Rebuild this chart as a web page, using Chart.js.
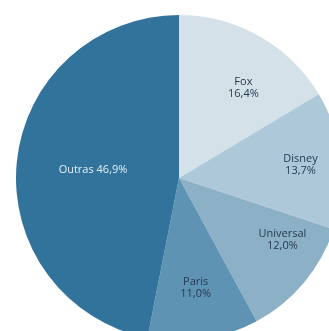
<!DOCTYPE html>
<html><head><meta charset="utf-8">
<script src="https://cdn.jsdelivr.net/npm/chart.js@4"></script>
<style>
html,body{margin:0;padding:0;background:#fff;overflow:hidden;width:329px;height:331px;}
#wrap{position:absolute;left:16px;top:15px;width:326px;height:326px;}
</style></head>
<body>
<div id="wrap"><canvas id="c" width="326" height="326"></canvas></div>
<script>
const categories = ["Fox", "Disney", "Universal", "Paris", "Outras"];
const shares = [16.4, 13.7, 12.0, 11.0, 46.9];
const sliceColors = ["#d4e1e9", "#adc8d8", "#8cb0c6", "#5f93b3", "#31739b"];
const labelColors = ["#253a52", "#253a52", "#253a52", "#253a52", "#e4eef4"];

function fmt(v){ return v.toFixed(1).replace('.', ',') + '%'; }

// label placement tuning: radial fraction and angle nudge (deg)
const labelRadial = [0.68, 0.75, 0.74, 0.68, 0.53];
const labelNudge = [6, 0, -9, 0, 0];
const labelInline = [false, false, false, false, true];

const labelPlugin = {
  id: 'sliceLabels',
  afterDatasetsDraw(chart){
    const ctx = chart.ctx;
    const meta = chart.getDatasetMeta(0);
    ctx.save();
    ctx.textAlign = 'center';
    ctx.textBaseline = 'middle';
    ctx.font = '11px "Open Sans", sans-serif';
    meta.data.forEach((arc, i) => {
      const p = arc.getProps(['x','y','startAngle','endAngle','outerRadius'], true);
      const mid = (p.startAngle + p.endAngle)/2 + labelNudge[i]*Math.PI/180;
      const r = p.outerRadius * labelRadial[i];
      const x = p.x + Math.cos(mid)*r;
      const y = p.y + Math.sin(mid)*r;
      ctx.fillStyle = labelColors[i];
      if (labelInline[i]) {
        ctx.fillText(categories[i] + ' ' + fmt(shares[i]), x, y);
      } else {
        ctx.fillText(categories[i], x, y - 6);
        ctx.fillText(fmt(shares[i]), x, y + 6);
      }
    });
    ctx.restore();
  }
};

new Chart(document.getElementById('c'), {
  type: 'pie',
  data: {
    labels: categories,
    datasets: [{ data: shares, backgroundColor: sliceColors, borderWidth: 0 }]
  },
  options: {
    responsive: false,
    animation: false,
    layout: { padding: 0 },
    plugins: { legend: { display: false }, tooltip: { enabled: false } }
  },
  plugins: [labelPlugin]
});
</script>
</body></html>
